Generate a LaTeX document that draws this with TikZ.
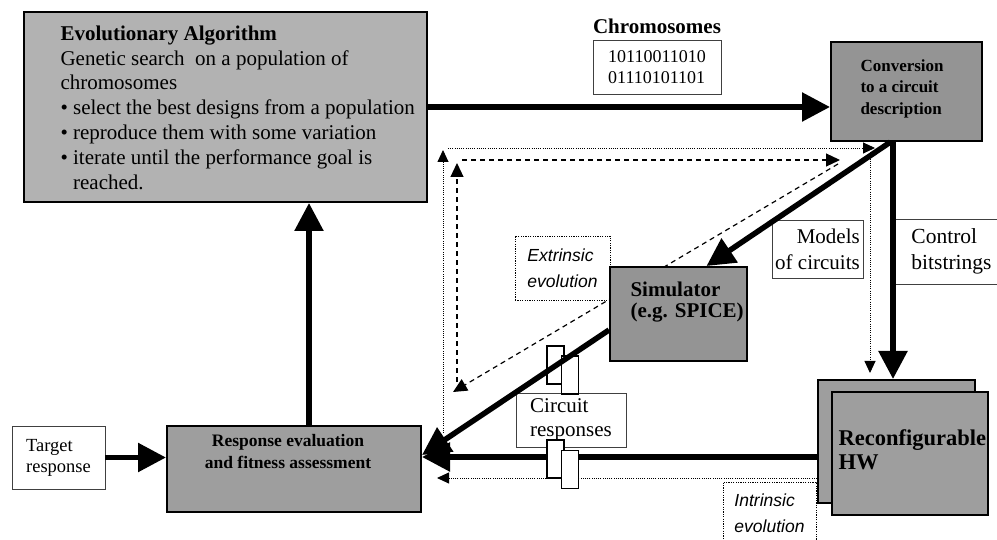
\documentclass[tikz,border=0pt]{standalone}
\usepackage{fontspec}
\setmainfont{Liberation Serif}
\setsansfont{Liberation Sans}
\usetikzlibrary{arrows.meta}
\setlength{\parindent}{0pt}

\begin{document}
\begin{tikzpicture}[x=1pt, y=-1pt,
	graybox/.style={draw, line width=2pt, fill=black!38, inner sep=0pt},
	labelbox/.style={draw=black!75, line width=0.9pt, fill=white, align=left, inner sep=0pt},
	evobox/.style={labelbox, draw=black, dash pattern=on 1.2pt off 1.2pt, font=\fontsize{17.5}{26}\selectfont\sffamily\itshape},
	bigarrow/.style={line width=5.5pt, -{Triangle[length=28pt,width=28pt]}},
	dasharrow/.style={line width=1.2pt, dash pattern=on 5pt off 4pt, -{Triangle[length=14pt,width=13pt]}},
	dotarrow/.style={line width=0.9pt, dash pattern=on 1pt off 1.2pt, -{Triangle[length=12pt,width=11pt]}},
	buffer/.style={draw, line width=1.5pt, fill=white, minimum width=17pt, minimum height=38pt, inner sep=0pt}]
	\useasboundingbox (0,0) rectangle (997,540);

	% labels in white boxes
	\node[labelbox, minimum width=93pt, minimum height=63pt, font=\fontsize{18.5}{21}\selectfont] (target) at (58.5,457.5) {Target\\response};
	\node[labelbox, minimum width=110pt, minimum height=54pt, font=\fontsize{21}{24}\selectfont] (cresp) at (571,420) {Circuit\\responses};
	\node[labelbox, align=right, minimum width=91pt, minimum height=58pt, font=\fontsize{21}{26}\selectfont] (models) at (817.5,249) {Models\\of circuits};
	\node[labelbox, minimum width=117pt, minimum height=65pt, font=\fontsize{21.5}{26}\selectfont] (ctrl) at (951.5,251.5) {Control\\bitstrings};
	\node[evobox, minimum width=95pt, minimum height=64pt] (extr) at (562.5,268) {Extrinsic\\evolution};
	\node[evobox, minimum width=93pt, minimum height=63pt] (intr) at (769.5,513.5) {Intrinsic\\evolution};
	\node[labelbox, minimum width=128pt, minimum height=54pt, font=\fontsize{18}{21}\selectfont] (chrom) at (657,67) {10110011010\\01110101101};
	\node[font=\fontsize{21}{24}\selectfont\bfseries] (chromtitle) at (657,26) {Chromosomes};

	% extrinsic and intrinsic loops
	\coordinate (dotV) at (443,433);
	\coordinate (dotVT) at (443,150);
	\coordinate (dotH) at (448,148);
	\coordinate (dotHR) at (875,148);
	\coordinate (dotR) at (870,152);
	\coordinate (dotRB) at (870,373);
	\coordinate (dotBL) at (437,478);
	\coordinate (dashD) at (838,164);
	\coordinate (dashDB) at (453,392);
	\coordinate (dashV) at (457,382);
	\coordinate (dashVT) at (457,163);
	\coordinate (dashH) at (462,160);
	\coordinate (dashHR) at (840,160);
	\draw[dotarrow] (dotV) -- (dotVT);
	\draw[dotarrow] (dotH) -- (dotHR);
	\draw[dotarrow] (dotR) -- (dotRB);
	\draw[dasharrow] (dashD) -- (dashDB);
	\draw[dasharrow] (dashV) -- (dashVT);
	\draw[dasharrow] (dashH) -- (dashHR);

	% blocks
	\node[graybox, fill=black!30, minimum width=403pt, minimum height=190pt] (ea) at (225.5,107) {};
	\node[graybox, fill=black!42, minimum width=151pt, minimum height=99pt] (conv) at (906.5,91.5) {};
	\node[graybox, fill=black!42, minimum width=137pt, minimum height=94pt] (sim) at (678.5,314) {};
	\node[graybox, minimum width=254pt, minimum height=86pt] (resp) at (294,469) {};
	\node[graybox, minimum width=157pt, minimum height=123pt] (hwb) at (896.5,441.5) {};
	\node[graybox, minimum width=156pt, minimum height=123pt] (hw) at (910,453.5) {};
	\draw[dotarrow] ([yshift=-36.5pt]hwb.west) -- (dotBL);

	\node[anchor=west, align=left, font=\fontsize{21}{24.8}\selectfont] (eatxt) at (57,107.5) {\textbf{Evolutionary Algorithm}\\Genetic search\ \ on a population of\\chromosomes\\• select the best designs from a population\\• reproduce them with some variation\\• iterate until the performance goal is\\\phantom{• }reached.};
	\node[anchor=west, align=left, font=\fontsize{17}{21.5}\selectfont\bfseries] (convtxt) at (857,88.5) {Conversion\\to a circuit\\description};
	\node[anchor=west, align=left, font=\fontsize{21}{21}\selectfont\bfseries] (simtxt) at (627,302.5) {Simulator\\(e.g. SPICE)};
	\node[align=center, font=\fontsize{17.5}{22}\selectfont\bfseries] (resptxt) at (288,452) {Response evaluation\\and fitness assessment};
	\node[anchor=west, align=left, font=\fontsize{22.5}{24}\selectfont\bfseries] (hwtxt) at (835,450) {Reconfigurable\\HW};

	% data flow
	\node[buffer] (bufa) at (555.5,365) {};
	\node[buffer] (bufb) at (570,375) {};
	\draw[bigarrow] (ea.east) -- (ea.east -| conv.west);
	\draw[bigarrow] ([xshift=-13.5pt]conv.south) -- ([xshift=-13.5pt]conv.south |- hwb.north);
	\draw[bigarrow] ([xshift=-16pt]conv.south) -- ([xshift=28pt]sim.north);
	\draw[bigarrow] ([yshift=-16pt]sim.west) -- ([yshift=14pt]resp.east);
	\draw[bigarrow] ([yshift=12pt]resp.east -| hwb.west) -- ([yshift=12pt]resp.east);
	\draw[bigarrow] (target.east) -- (target.east -| resp.west);
	\draw[bigarrow] ([xshift=15pt]resp.north) -- ([xshift=15pt]resp.north |- ea.south);
	\node[buffer] (bufc) at (555.5,459) {};
	\node[buffer] (bufd) at (570,469.5) {};
\end{tikzpicture}
\end{document}
